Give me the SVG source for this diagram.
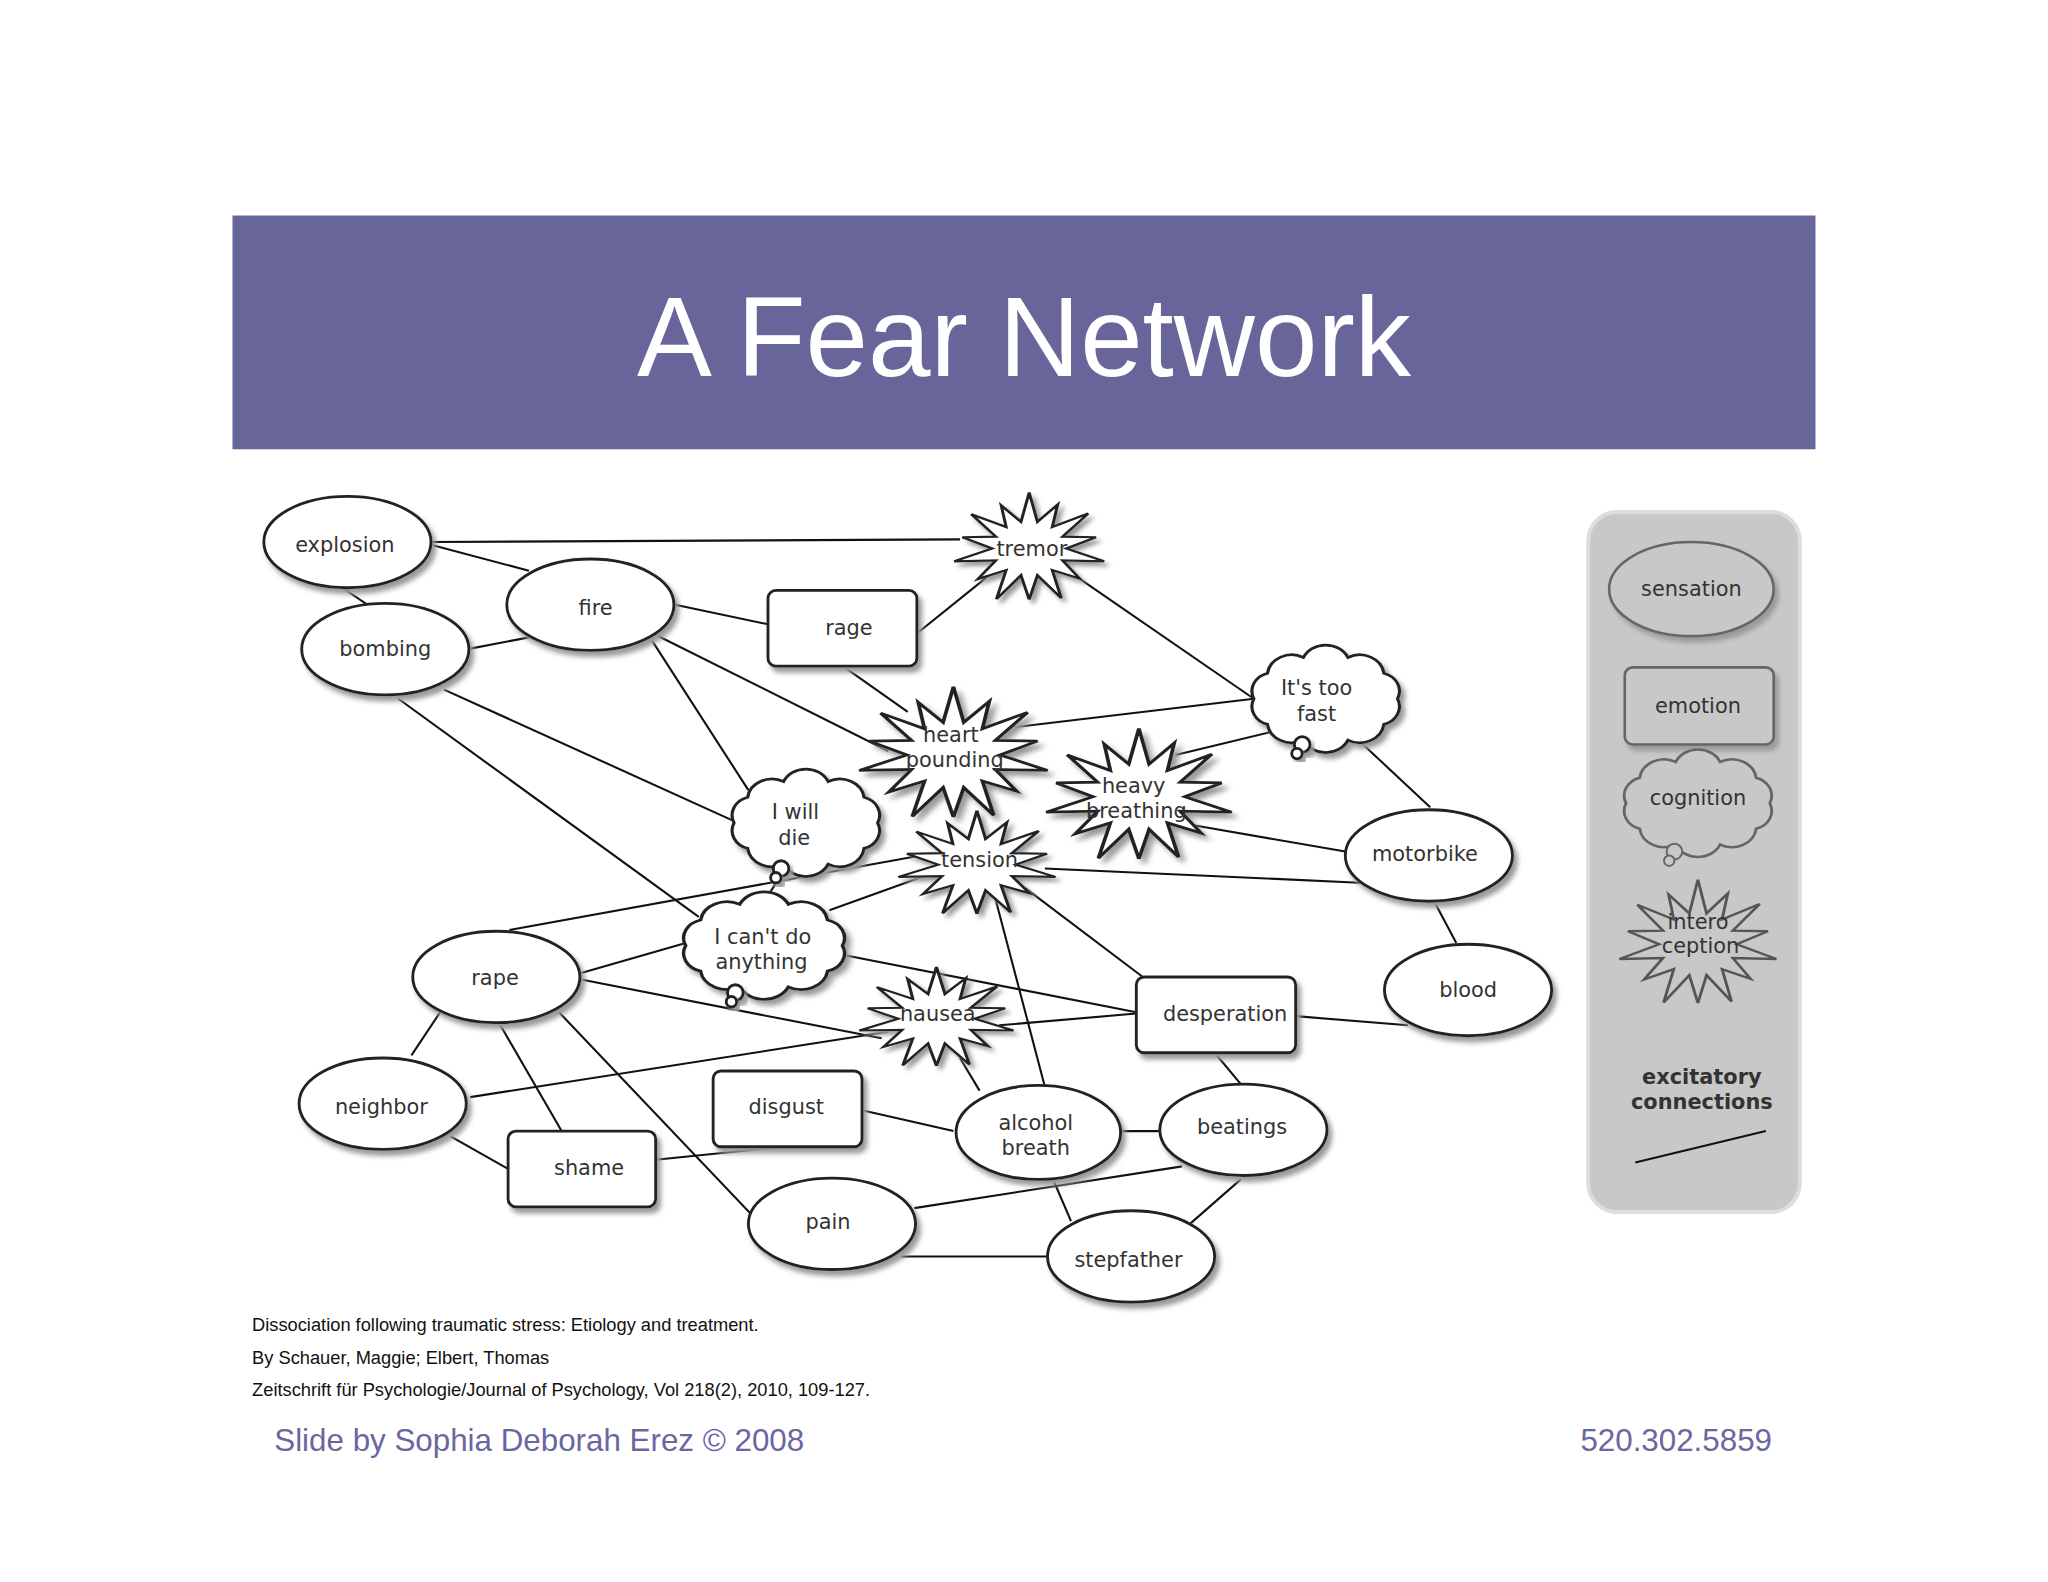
<svg xmlns="http://www.w3.org/2000/svg" xmlns:xlink="http://www.w3.org/1999/xlink" width="2048" height="1582" viewBox="0 0 2048 1582">
<style>
.n{fill:#fff;stroke:#222;stroke-width:2.2;filter:url(#sh)}
.t{font-family:"DejaVu Sans",sans-serif;font-size:16px;fill:#333;text-anchor:middle}
.e line{stroke:#111;stroke-width:1.6}
.c{font-family:"Liberation Sans",sans-serif;font-size:14px;fill:#111}
.f{font-family:"Liberation Sans",sans-serif;font-size:24px;fill:#6a67a0}
</style>
<defs>
<filter id="sh" x="-20%" y="-20%" width="150%" height="150%"><feDropShadow dx="3" dy="4" stdDeviation="2" flood-color="#9a9a9a"/></filter>
<polygon id="star" points="0,-55 6,-26.3 20.8,-43.2 16.8,-21.1 43,-34.3 24.3,-11.7 48.7,-11.1 27,0 54.6,12.5 24.3,11.7 36.7,29.3 16.8,21.1 23.4,48.7 6,26.3 0,50 -6,26.3 -23.9,49.6 -16.8,21.1 -37.5,29.9 -24.3,11.7 -54.6,12.5 -27,0 -48.7,-11.1 -24.3,-11.7 -42.2,-33.7 -16.8,-21.1 -20.4,-42.3 -6,-26.3"/>
<path id="cloud" d="M50,0 A15 15 0 0 1 40.5,20.6 A17 17 0 0 1 15.5,33.3 A17 17 0 0 1 -15.5,33.3 A17 17 0 0 1 -40.5,20.6 A15 15 0 0 1 -50,0 A15 15 0 0 1 -40.5,-20.6 A17 17 0 0 1 -15.5,-33.3 A17 17 0 0 1 15.5,-33.3 A17 17 0 0 1 40.5,-20.6 A15 15 0 0 1 50,0 Z"/>
</defs>
<rect width="2048" height="1582" fill="#fff"/>
<g transform="scale(1.3061)">
<rect x="178" y="165" width="1212" height="179" fill="#68659a"/>
<text x="784" y="288" font-family="Liberation Sans,sans-serif" font-size="86" fill="#fff" text-anchor="middle">A Fear Network</text>

<g id="legend">
<rect x="1216" y="392" width="162" height="536" rx="22" fill="#c8c8c8" stroke="#ddd" stroke-width="3"/>
<ellipse cx="1295" cy="451" rx="63" ry="36" fill="#c8c8c8" stroke="#666" stroke-width="2" filter="url(#sh)"/>
<text class="t" x="1295" y="456" fill="#555">sensation</text>
<rect x="1244" y="511" width="114" height="59" rx="6" fill="#c8c8c8" stroke="#666" stroke-width="2" filter="url(#sh)"/>
<text class="t" x="1300" y="546" fill="#555">emotion</text>
<use href="#cloud" transform="translate(1300,615) scale(1.1,0.95)" fill="#c8c8c8" stroke="#666" stroke-width="2"/>
<circle cx="1282" cy="652" r="6" fill="#c8c8c8" stroke="#666" stroke-width="1.5"/>
<circle cx="1278" cy="659" r="4" fill="#c8c8c8" stroke="#666" stroke-width="1.5"/>
<text class="t" x="1300" y="616" fill="#555">cognition</text>
<use href="#star" transform="translate(1300,723) scale(1.1,0.9)" fill="#c8c8c8" stroke="#555" stroke-width="2"/>
<text class="t" x="1300" y="711" fill="#555">intero</text>
<text class="t" x="1302" y="730" fill="#555">ception</text>
<text class="t" x="1303" y="830" font-weight="bold" fill="#111" font-size="15">excitatory</text>
<text class="t" x="1303" y="849" font-weight="bold" fill="#111" font-size="15">connections</text>
<line x1="1252" y1="890" x2="1352" y2="866" stroke="#111" stroke-width="1.6"/>
</g>

<g id="connectors" class="e">
<line x1="330" y1="415" x2="735" y2="413"/>
<line x1="330" y1="417" x2="405" y2="437"/>
<line x1="262" y1="450" x2="283" y2="464"/>
<line x1="358" y1="497" x2="405" y2="488"/>
<line x1="340" y1="528" x2="565" y2="630"/>
<line x1="305" y1="535" x2="535" y2="702"/>
<line x1="517" y1="463" x2="588" y2="478"/>
<line x1="497" y1="487" x2="573" y2="605"/>
<line x1="500" y1="485" x2="680" y2="575"/>
<line x1="702" y1="485" x2="758" y2="440"/>
<line x1="648" y1="512" x2="695" y2="545"/>
<line x1="822" y1="440" x2="960" y2="535"/>
<line x1="775" y1="557" x2="960" y2="535"/>
<line x1="900" y1="578" x2="975" y2="560"/>
<line x1="1035" y1="562" x2="1095" y2="618"/>
<line x1="915" y1="632" x2="1030" y2="652"/>
<line x1="800" y1="665" x2="1045" y2="676"/>
<line x1="1098" y1="690" x2="1115" y2="722"/>
<line x1="390" y1="712" x2="705" y2="655"/>
<line x1="635" y1="697" x2="710" y2="670"/>
<line x1="597" y1="672" x2="585" y2="690"/>
<line x1="445" y1="745" x2="525" y2="722"/>
<line x1="640" y1="730" x2="870" y2="775"/>
<line x1="445" y1="750" x2="675" y2="795"/>
<line x1="360" y1="840" x2="680" y2="790"/>
<line x1="785" y1="680" x2="875" y2="748"/>
<line x1="765" y1="785" x2="870" y2="776"/>
<line x1="760" y1="680" x2="800" y2="832"/>
<line x1="735" y1="810" x2="750" y2="835"/>
<line x1="660" y1="850" x2="730" y2="866"/>
<line x1="502" y1="888" x2="600" y2="878"/>
<line x1="992" y1="778" x2="1078" y2="785"/>
<line x1="930" y1="806" x2="950" y2="830"/>
<line x1="858" y1="866" x2="888" y2="866"/>
<line x1="805" y1="900" x2="820" y2="935"/>
<line x1="950" y1="903" x2="910" y2="938"/>
<line x1="700" y1="925" x2="905" y2="893"/>
<line x1="690" y1="962" x2="802" y2="962"/>
<line x1="337" y1="775" x2="315" y2="808"/>
<line x1="382" y1="783" x2="430" y2="866"/>
<line x1="428" y1="775" x2="585" y2="940"/>
<line x1="345" y1="870" x2="389" y2="895"/>
</g>

<g id="explosion"><ellipse class="n" cx="266" cy="415" rx="64" ry="35"/><text class="t" x="264" y="423">explosion</text></g>
<g id="bombing"><ellipse class="n" cx="295" cy="497" rx="64" ry="35"/><text class="t" x="295" y="502">bombing</text></g>
<g id="fire"><ellipse class="n" cx="452" cy="463" rx="64" ry="35"/><text class="t" x="456" y="471">fire</text></g>
<g id="rage"><rect class="n" x="588" y="452" width="114" height="58" rx="6"/><text class="t" x="650" y="486">rage</text></g>
<g id="tremor"><use href="#star" class="n" transform="translate(788,420) scale(1.05,0.78)"/><text class="t" x="790" y="426">tremor</text></g>
<g id="itstoofast"><use href="#cloud" class="n" transform="translate(1015,535) scale(1.1,0.95)"/><circle class="n" cx="997" cy="570" r="6"/><circle class="n" cx="993" cy="577" r="4"/><text class="t" x="1008" y="532">It's too</text><text class="t" x="1008" y="552">fast</text></g>
<g id="heartpounding"><use href="#star" class="n" transform="translate(730,578) scale(1.32,0.95)"/><text class="t" x="728" y="568">heart</text><text class="t" x="731" y="587">pounding</text></g>
<g id="heavybreathing"><use href="#star" class="n" transform="translate(872,610) scale(1.3,0.95)"/><text class="t" x="868" y="607">heavy</text><text class="t" x="870" y="626">breathing</text></g>
<g id="iwilldie"><use href="#cloud" class="n" transform="translate(617,630) scale(1.1,0.95)"/><circle class="n" cx="598" cy="665" r="6"/><circle class="n" cx="594" cy="672" r="4"/><text class="t" x="609" y="627">I will</text><text class="t" x="608" y="647">die</text></g>
<g id="tension"><use href="#star" class="n" transform="translate(748,662) scale(1.1,0.75)"/><text class="t" x="750" y="664">tension</text></g>
<g id="motorbike"><ellipse class="n" cx="1094" cy="655" rx="64" ry="35"/><text class="t" x="1091" y="659">motorbike</text></g>
<g id="icantdo"><use href="#cloud" class="n" transform="translate(585,724) scale(1.2,0.95)"/><circle class="n" cx="563" cy="760" r="6"/><circle class="n" cx="560" cy="767" r="4"/><text class="t" x="584" y="723">I can't do</text><text class="t" x="583" y="742">anything</text></g>
<g id="rape"><ellipse class="n" cx="380" cy="748" rx="64" ry="35"/><text class="t" x="379" y="754">rape</text></g>
<g id="blood"><ellipse class="n" cx="1124" cy="758" rx="64" ry="35"/><text class="t" x="1124" y="763">blood</text></g>
<g id="desperation"><rect class="n" x="870" y="748" width="122" height="58" rx="6"/><text class="t" x="938" y="782">desperation</text></g>
<g id="nausea"><use href="#star" class="n" transform="translate(717,780) scale(1.08,0.72)"/><text class="t" x="718" y="782">nausea</text></g>
<g id="neighbor"><ellipse class="n" cx="293" cy="845" rx="64" ry="35"/><text class="t" x="292" y="853">neighbor</text></g>
<g id="disgust"><rect class="n" x="546" y="820" width="114" height="58" rx="6"/><text class="t" x="602" y="853">disgust</text></g>
<g id="alcoholbreath"><ellipse class="n" cx="795" cy="867" rx="63" ry="36"/><text class="t" x="793" y="865">alcohol</text><text class="t" x="793" y="884">breath</text></g>
<g id="beatings"><ellipse class="n" cx="952" cy="865" rx="64" ry="35"/><text class="t" x="951" y="868">beatings</text></g>
<g id="shame"><rect class="n" x="389" y="866" width="113" height="58" rx="6"/><text class="t" x="451" y="900">shame</text></g>
<g id="pain"><ellipse class="n" cx="637" cy="937" rx="64" ry="35"/><text class="t" x="634" y="941">pain</text></g>
<g id="stepfather"><ellipse class="n" cx="866" cy="962" rx="64" ry="35"/><text class="t" x="864" y="970">stepfather</text></g>

<text class="c" x="193" y="1019">Dissociation following traumatic stress: Etiology and treatment.</text>
<text class="c" x="193" y="1044">By Schauer, Maggie; Elbert, Thomas</text>
<text class="c" x="193" y="1069">Zeitschrift für Psychologie/Journal of Psychology, Vol 218(2), 2010, 109-127.</text>
<text class="f" x="210" y="1111">Slide by Sophia Deborah Erez © 2008</text>
<text class="f" x="1210" y="1111">520.302.5859</text>
</g>
</svg>
